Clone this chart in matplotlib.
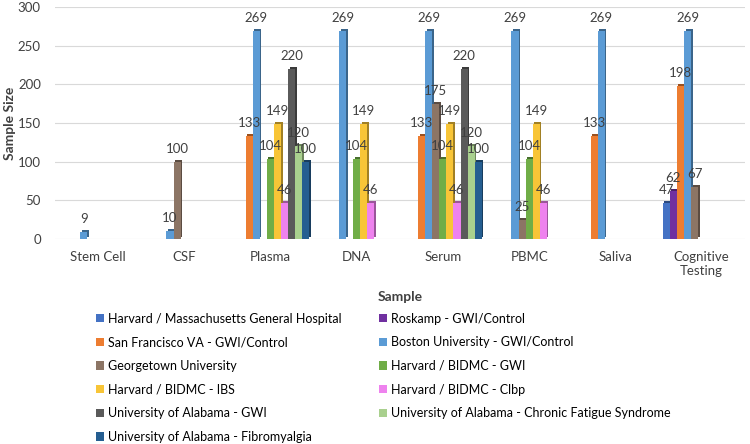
"""Sample size per sample type, grouped by study site (Excel-style 3D-ish bars)."""

import matplotlib

matplotlib.use("Agg")
import matplotlib.pyplot as plt
import matplotlib.colors as mcolors
import numpy as np

plt.rcParams["font.family"] = ["Lato", "DejaVu Sans"]

categories = ["Stem Cell", "CSF", "Plasma", "DNA", "Serum", "PBMC", "Saliva",
              "Cognitive\nTesting"]

series_names = [
    "Harvard / Massachusetts General Hospital",
    "Roskamp - GWI/Control",
    "San Francisco VA - GWI/Control",
    "Boston University - GWI/Control",
    "Georgetown University",
    "Harvard / BIDMC - GWI",
    "Harvard / BIDMC - IBS",
    "Harvard / BIDMC - Clbp",
    "University of Alabama - GWI",
    "University of Alabama - Chronic Fatigue Syndrome",
    "University of Alabama - Fibromyalgia",
]

# values per series across categories (None = no bar)
mgh = [None, None, None, None, None, None, None, 47]
roskamp = [None, None, None, None, None, None, None, 62]
sf_va = [None, None, 133, None, 133, None, 133, 198]
boston = [9, 10, 269, 269, 269, 269, 269, 269]
georgetown = [None, 100, None, None, 175, 25, None, 67]
bidmc_gwi = [None, None, 104, 104, 104, 104, None, None]
bidmc_ibs = [None, None, 149, 149, 149, 149, None, None]
bidmc_clbp = [None, None, 46, 46, 46, 46, None, None]
uab_gwi = [None, None, 220, None, 220, None, None, None]
uab_cfs = [None, None, 120, None, 120, None, None, None]
uab_fibro = [None, None, 100, None, 100, None, None, None]

series_values = [mgh, roskamp, sf_va, boston, georgetown, bidmc_gwi,
                 bidmc_ibs, bidmc_clbp, uab_gwi, uab_cfs, uab_fibro]

colors = ["#4472C4", "#7030A0", "#ED7D31", "#5B9BD5", "#8C7565", "#70AD47",
          "#F8C537", "#EE82EE", "#5A5A5A", "#A9D08E", "#255E91"]

fig = plt.figure(figsize=(7.5, 4.44), dpi=100)
ax = fig.add_axes([0.073, 0.462, 0.92, 0.522])

n = len(series_names)
group_w = 0.9
bw = group_w / n
x = np.arange(len(categories))
text_col = "#404040"

handles = []
for i, (name, vals, col) in enumerate(zip(series_names, series_values, colors)):
    xs = x - group_w / 2 + bw * (i + 0.5)
    dark = tuple(c * 0.65 for c in mcolors.to_rgb(col))
    h = None
    for xi, v in zip(xs, vals):
        if v is None:
            continue
        # depth face behind the bar for the 3D look
        ax.bar(xi + bw * 0.22, v, width=bw, bottom=2.5, color=dark, zorder=2)
        h = ax.bar(xi, v, width=bw, color=col, zorder=3)
        ax.text(xi, v + 9, str(v), ha="center", va="bottom", fontsize=9.5,
                color=text_col, zorder=5)
    handles.append(h)

ax.set_xlim(-0.5, len(categories) - 0.5)
ax.set_ylim(0, 300)
ax.set_yticks(np.arange(0, 301, 50))
ax.set_xticks(x)
ax.set_xticklabels(categories)
ax.tick_params(axis="both", length=0, labelsize=9.5, colors=text_col)
ax.tick_params(axis="x", pad=9)
ax.tick_params(axis="y", pad=10)
ax.grid(axis="y", color="#D9D9D9", linewidth=0.8, zorder=0)
for s in ax.spines.values():
    s.set_visible(False)

ax.set_ylabel("Sample Size", fontsize=10, fontweight="bold", color=text_col,
              labelpad=1)
ax.set_xlabel("Sample", fontsize=10, fontweight="bold", color=text_col,
              labelpad=10)

# Excel fills the legend row by row; matplotlib fills column by column
order = list(range(0, n, 2)) + list(range(1, n, 2))
fig.legend([handles[k] for k in order], [series_names[k] for k in order],
           ncol=2, loc="upper left", bbox_to_anchor=(0.121, 0.307),
           frameon=False, fontsize=9, handlelength=0.65, handleheight=0.65,
           handletextpad=0.32, columnspacing=3.0, labelspacing=0.93,
           borderaxespad=0)

plt.savefig("out.png", dpi=100)
plt.close(fig)
